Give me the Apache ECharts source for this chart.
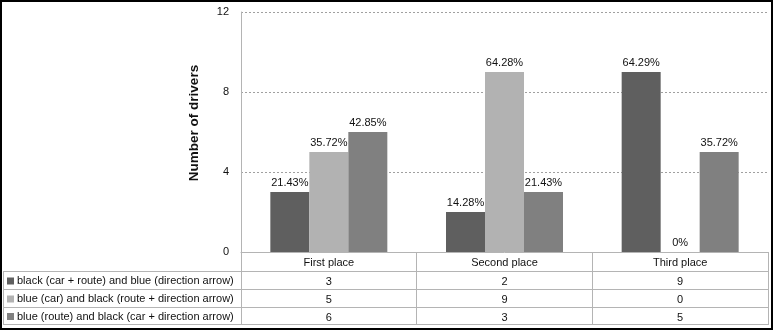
<!DOCTYPE html>
<html>
<head>
<meta charset="utf-8">
<script src="https://cdn.jsdelivr.net/npm/echarts@6/dist/echarts.min.js"></script>
<style>
  html, body { margin: 0; padding: 0; background: #fff; }
  #chart { width: 773px; height: 330px; }
</style>
</head>
<body>
<div id="chart"></div>
<script>
const categories = ['First place', 'Second place', 'Third place'];
const seriesNames = [
  'black (car + route) and blue (direction arrow)',
  'blue (car) and black (route + direction arrow)',
  'blue (route) and black (car + direction arrow)'
];
const blackCarRoute = [3, 2, 9];
const blueCar = [5, 9, 0];
const blueRoute = [6, 3, 5];
const pctBlackCarRoute = ['21.43%', '14.28%', '64.29%'];
const pctBlueCar = ['35.72%', '64.28%', '0%'];
const pctBlueRoute = ['42.85%', '21.43%', '35.72%'];
const yMin = 0, yMax = 12, yStep = 4;

const values = [blackCarRoute, blueCar, blueRoute];
const pcts = [pctBlackCarRoute, pctBlueCar, pctBlueRoute];
const colors = ['#5f5f5f', '#b2b2b2', '#808080'];
const font = '"Liberation Sans", Arial, sans-serif';
const lineCol = '#b4b4b4';

const myChart = echarts.init(document.getElementById('chart'));

// table layout (pixels)
const tLeft = 3, tRight = 769;
const rowLines = [271, 289, 307, 324];

let graphics = [
  {type: 'rect', shape: {x: 1, y: 1, width: 771, height: 328}, style: {fill: 'none', stroke: '#000', lineWidth: 2}, z: 10},
  {type: 'line', shape: {x1: tLeft + 0.5, y1: rowLines[0], x2: tLeft + 0.5, y2: rowLines[3]}, style: {stroke: lineCol, lineWidth: 1}}
];
rowLines.forEach(function (y) {
  graphics.push({type: 'line', shape: {x1: tLeft, y1: y + 0.5, x2: tRight, y2: y + 0.5}, style: {stroke: lineCol, lineWidth: 1}});
});
seriesNames.forEach(function (name, i) {
  const cy = (rowLines[i] + rowLines[i + 1]) / 2 + 1;
  graphics.push({type: 'rect', shape: {x: 7, y: cy - 3.5, width: 7, height: 7}, style: {fill: colors[i]}});
  graphics.push({type: 'text', x: 17, y: cy, style: {text: name, font: '11px ' + font, fill: '#111', verticalAlign: 'middle'}});
});

// one extra category axis per table row, showing the values
const rowAxes = values.map(function (vals, i) {
  return {
    type: 'category',
    data: categories,
    position: 'bottom',
    offset: 19 + i * 18,
    axisLine: {show: false},
    axisTick: {show: false},
    axisLabel: {
      margin: 5,
      fontFamily: font,
      fontSize: 11,
      color: '#111',
      formatter: function (v, idx) { return String(vals[idx]); }
    }
  };
});

const option = {
  backgroundColor: '#fff',
  animation: false,
  color: colors,
  grid: {left: 241, right: 5, top: 12, bottom: 78, containLabel: false},
  xAxis: [
    {
      type: 'category',
      data: categories,
      axisLine: {lineStyle: {color: lineCol}},
      axisTick: {show: true, length: 72, interval: 0, alignWithLabel: false, lineStyle: {color: lineCol}},
      axisLabel: {margin: 5, fontFamily: font, fontSize: 11, color: '#111'}
    }
  ].concat(rowAxes),
  yAxis: {
    type: 'value',
    min: yMin,
    max: yMax,
    interval: yStep,
    name: 'Number of drivers',
    nameLocation: 'middle',
    nameGap: 40,
    nameTextStyle: {fontFamily: font, fontSize: 13.5, fontWeight: 'bold', color: '#111', padding: [0, 0, 0, 18]},
    axisLine: {show: true, lineStyle: {color: lineCol}},
    axisTick: {show: false},
    axisLabel: {margin: 12, fontFamily: font, fontSize: 11, color: '#111'},
    splitLine: {lineStyle: {color: '#a0a0a0', type: [2, 2]}}
  },
  graphic: graphics,
  series: values.map(function (vals, i) {
    return {
      name: seriesNames[i],
      type: 'bar',
      xAxisIndex: 0,
      data: vals,
      barGap: '0%',
      barCategoryGap: '33.4%',
      itemStyle: {color: colors[i]},
      label: {
        show: true,
        position: 'top',
        distance: 4,
        fontFamily: font,
        fontSize: 11,
        color: '#111',
        formatter: function (p) { return pcts[i][p.dataIndex]; }
      }
    };
  })
};

option && myChart.setOption(option);
</script>
</body>
</html>
